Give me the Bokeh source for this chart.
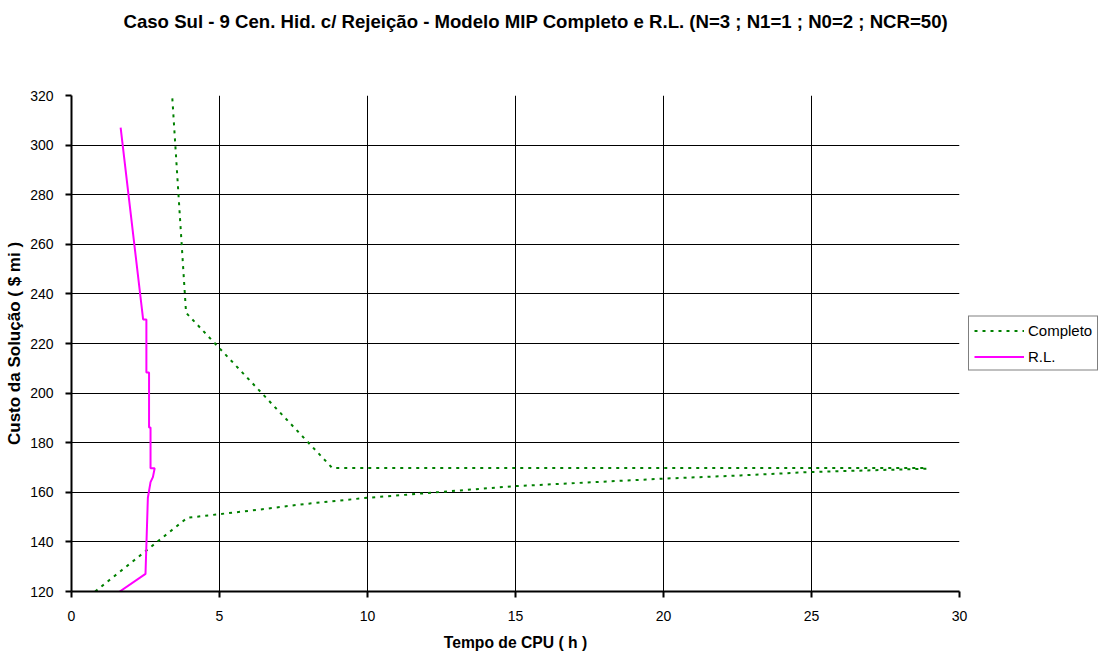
from bokeh.plotting import figure
from bokeh.models import FixedTicker, Legend, LegendItem, Range1d, Title, LinearAxis
from bokeh.embed import file_html
from bokeh.resources import INLINE

# Data
completo_x = [0.80, 3.91, 6.40, 7.74, 10.0, 15.0, 20.0, 22.6, 25.0, 28.9, 28.9, 8.81, 3.87, 3.40]
completo_y = [120.0, 149.7, 153.1, 155.1, 157.8, 162.5, 165.5, 166.8, 168.2, 169.5, 169.8, 169.8, 232.4, 320.0]

rl_x = [1.63, 2.50, 2.58, 2.67, 2.75, 2.81, 2.67, 2.67, 2.62, 2.62, 2.53, 2.53, 2.42, 1.66]
rl_y = [120.0, 127.1, 157.8, 164.1, 166.1, 169.7, 169.7, 186.1, 186.1, 208.3, 208.3, 229.7, 229.7, 307.0]

x_ticks = [0, 5, 10, 15, 20, 25, 30]
y_ticks = [120, 140, 160, 180, 200, 220, 240, 260, 280, 300, 320]

title_text = "Caso Sul - 9 Cen. Hid. c/ Rejeição - Modelo MIP Completo e R.L. (N=3 ; N1=1 ; N0=2 ; NCR=50)"
x_label = "Tempo de CPU ( h )"
y_label = "Custo da Solução ( $ mi )"

FONT = "Liberation Sans"

p = figure(frame_width=888, frame_height=496, output_backend="svg", toolbar_location=None,
           x_range=Range1d(0, 30), y_range=Range1d(120, 320),
           min_border_left=71, min_border_right=140, min_border_top=95, min_border_bottom=60,
           title=None)
p.background_fill_color = "white"
p.border_fill_color = "white"
p.outline_line_color = None

xax = p.below[0]
yax = p.left[0]

# invisible top axis used only as a spacer between the frame and the title
spacer_axis = LinearAxis(ticker=FixedTicker(ticks=[]), axis_line_color=None,
                         major_tick_line_color=None, minor_tick_line_color=None,
                         major_tick_out=0, major_label_standoff=0,
                         axis_label=".", axis_label_text_font_size="10px",
                         axis_label_text_alpha=0, axis_label_standoff=45)
p.add_layout(spacer_axis, "above")

t = Title(text=title_text, align="left", offset=52, standoff=16, vertical_align="bottom",
          text_font=FONT, text_font_size="18.6px", text_font_style="bold", text_color="black")
p.add_layout(t, "above")

for ax in (xax, yax):
    ax.axis_line_color = "black"
    ax.axis_line_width = 2
    ax.major_tick_line_color = "black"
    ax.major_tick_line_width = 2
    ax.major_tick_out = 6
    ax.major_tick_in = 0
    ax.minor_tick_line_color = None
    ax.major_label_text_font = FONT
    ax.major_label_text_font_size = "14px"
    ax.major_label_text_color = "black"
    ax.axis_label_text_font = FONT
    ax.axis_label_text_font_style = "bold"
    ax.axis_label_text_color = "black"

xax.ticker = FixedTicker(ticks=x_ticks)
yax.ticker = FixedTicker(ticks=y_ticks)
xax.axis_label = x_label
yax.axis_label = y_label
xax.axis_label_text_font_size = "15.7px"
yax.axis_label_text_font_size = "17px"
xax.major_label_standoff = 13
yax.major_label_standoff = 12
xax.axis_label_standoff = 10
yax.axis_label_standoff = 3

for g in (p.xgrid[0], p.ygrid[0]):
    g.grid_line_color = "black"
    g.grid_line_width = 1
p.xgrid[0].ticker = FixedTicker(ticks=x_ticks)
p.ygrid[0].ticker = FixedTicker(ticks=y_ticks)

r1 = p.line(completo_x, completo_y, line_color="#008000", line_width=2, line_dash="3 5")
r2 = p.line(rl_x, rl_y, line_color="#FF00FF", line_width=2)

legend = Legend(items=[LegendItem(label="Completo", renderers=[r1]),
                       LegendItem(label="R.L.", renderers=[r2])],
                location="center_left", margin=9, padding=5, spacing=9,
                glyph_width=50, glyph_height=16, label_height=16, label_standoff=4,
                label_text_font=FONT, label_text_font_size="15px", label_text_color="black",
                border_line_color="black", border_line_width=1,
                background_fill_color="white", background_fill_alpha=1)
p.add_layout(legend, "right")

open("out.html", "w").write(file_html(p, INLINE))
